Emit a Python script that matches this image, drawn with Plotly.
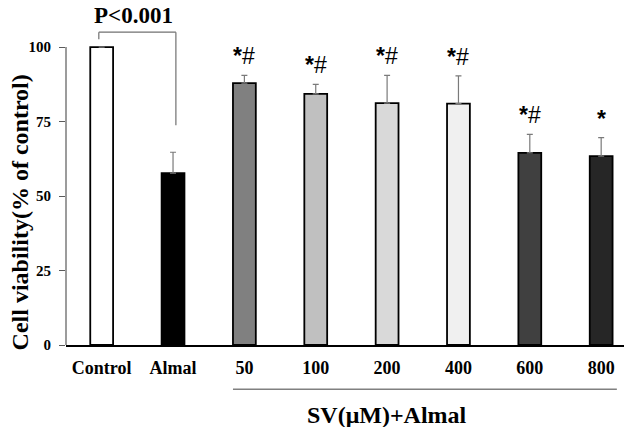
import plotly.graph_objects as go

categories = ["Control", "Almal", "50", "100", "200", "400", "600", "800"]
viability = [100, 57.7, 87.9, 84.3, 81.2, 81.0, 64.5, 63.4]
err_up = [0, 7.0, 2.6, 3.2, 9.3, 9.3, 6.2, 6.2]
bar_colors = ["#ffffff", "#000000", "#808080", "#c0c0c0", "#d9d9d9", "#f0f0f0", "#404040", "#262626"]
sig_labels = ["", "", "*#", "*#", "*#", "*#", "*#", "*"]
y_ticks = [0, 25, 50, 75, 100]

serif = "Liberation Serif, Times New Roman, serif"
sans = "Liberation Sans, Arial, sans-serif"
x_idx = list(range(len(categories)))

fig = go.Figure()
fig.add_trace(go.Bar(
    x=x_idx, y=viability, width=0.32,
    marker=dict(color=bar_colors, line=dict(color="#000000", width=1.8)),
    error_y=dict(type="data", symmetric=False, array=err_up,
                 arrayminus=[0] * len(err_up), color="#7a7a7a",
                 thickness=1.2, width=3),
    showlegend=False, hoverinfo="skip",
))

annotations = []
for i, (lab, v, e) in enumerate(zip(sig_labels, viability, err_up)):
    if lab:
        annotations.append(dict(
            x=i, y=v + e, xref="x", yref="y",
            text=lab.replace("*", "<b>*</b>"), showarrow=False,
            yanchor="bottom", yshift=4,
            font=dict(family=sans, size=23, color="#000000")))

annotations.append(dict(x=(0 + 1) / 2 - 0.05, y=1.0, xref="x", yref="paper",
                        text="<b>P<0.001</b>", showarrow=False, yanchor="top",
                        yshift=-1, font=dict(family=serif, size=23, color="#000000")))
annotations.append(dict(x=-0.082, y=0.385, xref="paper", yref="paper",
                        text="<b>Cell viability(% of control)</b>", textangle=-90,
                        showarrow=False, xanchor="center", yanchor="middle",
                        font=dict(family=serif, size=24, color="#000000")))
annotations.append(dict(x=4.0, y=-0.16, xref="x", yref="paper",
                        text="<b>SV(μM)+Almal</b>", showarrow=False,
                        xanchor="center", yanchor="top",
                        font=dict(family=serif, size=24, color="#000000")))

bracket_top = 105
shapes = [
    dict(type="line", xref="paper", yref="y", x0=0, x1=0, y0=0, y1=100,
         line=dict(color="#5a5a5a", width=1.2)),
    dict(type="line", xref="x", yref="y", x0=-0.04, x1=-0.04, y0=102.6, y1=bracket_top,
         line=dict(color="#707070", width=1.2)),
    dict(type="line", xref="x", yref="y", x0=-0.04, x1=1.04, y0=bracket_top, y1=bracket_top,
         line=dict(color="#707070", width=1.2)),
    dict(type="line", xref="x", yref="y", x0=1.04, x1=1.04, y0=73.8, y1=bracket_top,
         line=dict(color="#707070", width=1.2)),
    dict(type="line", xref="x", yref="paper", x0=1.84, x1=7.22, y0=-0.128, y1=-0.128,
         line=dict(color="#808080", width=1.5)),
]

fig.update_layout(
    width=624, height=427,
    margin=dict(l=66, r=0, t=0, b=82),
    plot_bgcolor="#ffffff", paper_bgcolor="#ffffff",
    annotations=annotations, shapes=shapes,
    xaxis=dict(range=[-0.5, 7.32], tickvals=x_idx,
               ticktext=["<b>%s</b>" % c for c in categories],
               showline=True, linecolor="#000000", linewidth=1.5,
               ticks="", showgrid=False, zeroline=False, ticklabelstandoff=6,
               tickfont=dict(family=serif, size=18, color="#000000")),
    yaxis=dict(range=[0, 115.8], tickvals=y_ticks,
               ticktext=["<b>%d</b>" % t for t in y_ticks],
               showline=False, ticks="outside", ticklen=6, tickcolor="#5a5a5a",
               showgrid=False, zeroline=False, ticklabelstandoff=5,
               tickfont=dict(family=serif, size=15, color="#000000")),
)

fig.write_html("out.html", config={"displayModeBar": False},
               post_script="document.body.style.margin='0';document.body.style.overflow='hidden';")
